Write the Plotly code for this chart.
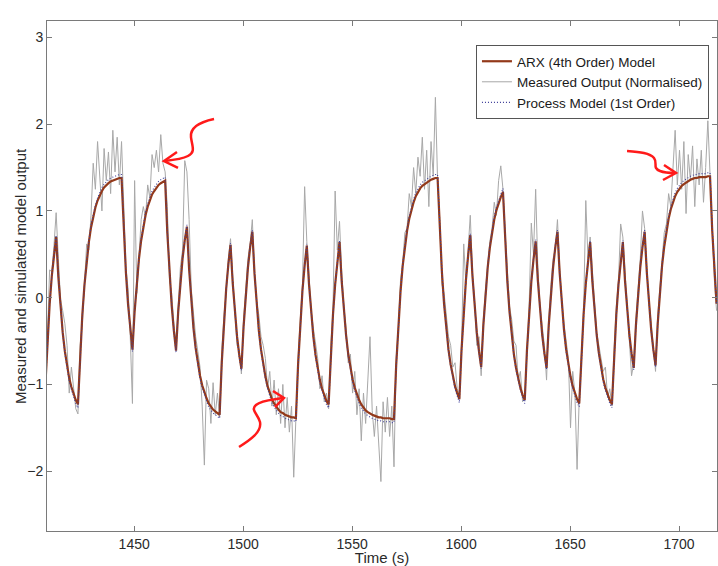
import plotly.graph_objects as go

# Sample grid: 1 s steps starting at 1409.2 s
T0 = 1409.2
DT = 1.0

# ARX (4th order) simulated output
arx_output = [
    -1.03, -0.50, -0.08, 0.25, 0.50, 0.70, 0.24, -0.12, -0.40, -0.62,
    -0.79, -0.93, -1.03, -1.11, -1.18, -1.23, -0.65, -0.20, 0.15, 0.43,
    0.64, 0.81, 0.94, 1.04, 1.12, 1.18, 1.23, 1.27, 1.30, 1.32,
    1.34, 1.35, 1.36, 1.37, 1.38, 1.38, 0.77, 0.29, -0.08, -0.37,
    -0.60, -0.16, 0.19, 0.45, 0.66, 0.82, 0.95, 1.05, 1.13, 1.19,
    1.23, 1.27, 1.30, 1.32, 1.34, 1.35, 0.75, 0.28, -0.09, -0.38,
    -0.61, -0.16, 0.18, 0.45, 0.66, 0.82, 0.33, -0.05, -0.35, -0.58,
    -0.76, -0.90, -1.01, -1.10, -1.16, -1.22, -1.26, -1.29, -1.31, -1.33,
    -1.35, -0.74, -0.27, 0.10, 0.38, 0.61, 0.17, -0.18, -0.45, -0.66,
    -0.82, -0.33, 0.05, 0.35, 0.58, 0.76, 0.28, -0.09, -0.38, -0.60,
    -0.78, -0.91, -1.02, -1.10, -1.17, -1.22, -1.26, -1.29, -1.32, -1.33,
    -1.35, -1.36, -1.37, -1.38, -1.38, -1.39, -0.77, -0.29, 0.08, 0.37,
    0.60, 0.16, -0.19, -0.45, -0.66, -0.82, -0.95, -1.05, -1.13, -1.19,
    -1.23, -0.66, -0.20, 0.15, 0.43, 0.64, 0.19, -0.16, -0.43, -0.65,
    -0.81, -0.94, -1.04, -1.12, -1.18, -1.23, -1.27, -1.30, -1.32, -1.34,
    -1.35, -1.36, -1.37, -1.38, -1.38, -1.39, -1.39, -1.39, -1.39, -1.40,
    -1.40, -0.78, -0.30, 0.07, 0.37, 0.59, 0.77, 0.91, 1.02, 1.10,
    1.17, 1.22, 1.26, 1.29, 1.31, 1.33, 1.35, 1.36, 1.37, 1.38,
    1.38, 0.77, 0.29, -0.08, -0.37, -0.60, -0.77, -0.91, -1.02, -1.10,
    -1.17, -0.60, -0.16, 0.20, 0.48, 0.72, 0.25, -0.12, -0.40, -0.62,
    -0.80, -0.32, 0.06, 0.35, 0.58, 0.76, 0.90, 1.01, 1.10, 1.16,
    1.22, 0.64, 0.19, -0.16, -0.43, -0.65, -0.81, -0.94, -1.04, -1.12,
    -1.18, -0.61, -0.17, 0.18, 0.44, 0.65, 0.20, -0.15, -0.43, -0.64,
    -0.81, -0.32, 0.06, 0.35, 0.58, 0.76, 0.29, -0.08, -0.37, -0.60,
    -0.78, -0.91, -1.02, -1.10, -1.17, -1.22, -0.64, -0.19, 0.16, 0.43,
    0.64, 0.19, -0.16, -0.43, -0.64, -0.81, -0.94, -1.04, -1.12, -1.18,
    -1.23, -0.65, -0.20, 0.15, 0.43, 0.64, 0.19, -0.16, -0.43, -0.64,
    -0.81, -0.32, 0.06, 0.35, 0.58, 0.76, 0.29, -0.09, -0.37, -0.60,
    -0.78, -0.30, 0.08, 0.37, 0.59, 0.77, 0.91, 1.02, 1.10, 1.17,
    1.22, 1.26, 1.29, 1.31, 1.33, 1.35, 1.36, 1.37, 1.38, 1.38,
    1.39, 1.39, 1.39, 1.39, 1.40, 1.40, 0.78, 0.30, -0.07,
]

# Measured output (normalised)
measured_output = [
    -0.90, -0.45, 0.32, 0.30, 0.60, 0.98, 0.45, -0.02, -0.15, -0.30,
    -0.55, -1.10, -0.80, -1.02, -1.28, -1.34, -0.55, -0.30, 0.22, 0.62,
    0.55, 0.95, 1.55, 1.25, 1.80, 1.40, 1.00, 1.72, 1.35, 1.68,
    1.20, 1.93, 1.45, 1.85, 1.30, 1.80, 1.10, 0.35, 0.10, -0.45,
    -1.22, 1.35, 0.05, 0.55, 0.90, 1.05, 0.92, 1.30, 1.15, 1.65,
    1.50, 1.70, 1.45, 1.88, 1.55, 1.45, 1.05, 0.20, 0.05, -0.30,
    -0.55, -0.10, 0.35, 0.55, 1.58, 1.45, 0.90, 0.10, -0.20, -0.45,
    -0.62, -0.80, -1.25, -1.93, -0.95, -1.05, -1.45, -0.98, -1.35, -1.10,
    -1.38, -0.60, -0.20, 0.05, 0.45, 0.68, 0.25, -0.10, -0.55, -0.60,
    -0.88, -0.25, 0.10, 0.45, 0.62, 0.90, 0.30, -0.05, -0.20, -0.45,
    -0.55, -0.70, -1.05, -0.85, -1.25, -0.95, -1.35, -1.05, -1.45, -1.00,
    -1.50, -1.15, -1.55, -1.25, -2.07, -1.30, -0.70, -0.25, 0.15, 1.28,
    0.65, 0.25, -0.15, -0.35, -0.55, -0.70, -1.05, -0.90, -1.20, -1.10,
    -1.28, -0.55, -0.15, 1.23, 0.55, 0.88, 0.30, -0.10, -0.35, -0.75,
    -0.65, -1.10, -0.85, -1.35, -1.05, -1.65, -1.10, -1.45, -0.95, -0.45,
    -1.30, -1.60, -1.25, -1.70, -2.12, -1.20, -1.55, -1.15, -1.60, -1.25,
    -1.95, -0.70, -0.35, 0.20, 0.40, 0.75, 0.80, 1.20, 1.05, 1.50,
    1.20, 1.62, 1.40, 1.85, 1.25, 1.70, 1.05, 1.80, 1.40, 2.31,
    1.35, 0.90, 0.15, 0.05, -0.20, -0.45, -0.55, -0.80, -0.75, -1.05,
    -1.12, -0.55, 0.62, 0.15, 0.55, 0.95, 0.30, -0.05, -0.55, -0.45,
    -0.90, -0.25, 0.10, 0.40, 0.65, 0.80, 1.10, 0.95, 1.35, 1.52,
    1.25, 0.75, 0.30, -0.10, -0.25, -0.50, -0.55, -0.95, -0.85, -1.20,
    -1.15, -0.55, -0.10, 0.86, 0.50, 1.25, 0.35, -0.10, -0.35, -0.55,
    -0.95, -0.25, 0.15, 0.45, 0.55, 0.90, 0.35, -0.05, -0.30, -0.50,
    -0.70, -1.50, -0.85, -1.10, -1.98, -1.15, -0.55, -0.15, 1.12, 0.45,
    0.70, 0.25, -0.05, -0.40, -0.55, -0.65, -0.85, -0.80, -1.15, -1.05,
    -1.25, -0.60, -0.10, 0.20, 0.85, 0.70, 0.25, -0.05, -0.50, -0.90,
    -0.75, -0.25, 0.10, 0.45, 1.00, 0.80, 0.35, -0.05, -0.30, -0.55,
    -0.85, -0.20, 0.15, 0.45, 0.75, 0.85, 1.20, 1.05, 1.55, 1.93,
    1.30, 1.70, 1.25, 1.80, 0.97, 1.65, 1.35, 1.75, 1.05, 1.60,
    1.30, 1.70, 1.10, 1.50, 2.04, 1.45, 0.85, 0.20, -0.15,
]

# Process model (1st order) simulated output
process_output = [
    -1.06, -0.52, -0.08, 0.26, 0.52, 0.72, 0.25, -0.12, -0.41, -0.64,
    -0.81, -0.96, -1.06, -1.14, -1.22, -1.27, -0.67, -0.21, 0.15, 0.44,
    0.66, 0.83, 0.97, 1.07, 1.15, 1.22, 1.27, 1.31, 1.34, 1.36,
    1.38, 1.39, 1.40, 1.41, 1.42, 1.42, 0.79, 0.30, -0.08, -0.38,
    -0.62, -0.16, 0.20, 0.46, 0.68, 0.84, 0.98, 1.08, 1.16, 1.23,
    1.27, 1.31, 1.34, 1.36, 1.38, 1.39, 0.77, 0.29, -0.09, -0.39,
    -0.63, -0.16, 0.19, 0.46, 0.68, 0.84, 0.34, -0.05, -0.36, -0.60,
    -0.78, -0.93, -1.04, -1.13, -1.19, -1.26, -1.30, -1.33, -1.35, -1.37,
    -1.39, -0.76, -0.28, 0.10, 0.39, 0.63, 0.18, -0.19, -0.46, -0.68,
    -0.84, -0.34, 0.05, 0.36, 0.60, 0.78, 0.29, -0.09, -0.39, -0.62,
    -0.80, -0.94, -1.05, -1.13, -1.21, -1.26, -1.30, -1.33, -1.36, -1.37,
    -1.39, -1.40, -1.41, -1.42, -1.42, -1.43, -0.79, -0.30, 0.08, 0.38,
    0.62, 0.16, -0.20, -0.46, -0.68, -0.84, -0.98, -1.08, -1.16, -1.23,
    -1.27, -0.68, -0.21, 0.15, 0.44, 0.66, 0.20, -0.16, -0.44, -0.67,
    -0.83, -0.97, -1.07, -1.15, -1.22, -1.27, -1.31, -1.34, -1.36, -1.38,
    -1.39, -1.40, -1.41, -1.42, -1.42, -1.43, -1.43, -1.43, -1.43, -1.44,
    -1.44, -0.80, -0.31, 0.07, 0.38, 0.61, 0.79, 0.94, 1.05, 1.13,
    1.21, 1.26, 1.30, 1.33, 1.35, 1.37, 1.39, 1.40, 1.41, 1.42,
    1.42, 0.79, 0.30, -0.08, -0.38, -0.62, -0.79, -0.94, -1.05, -1.13,
    -1.21, -0.62, -0.16, 0.21, 0.49, 0.74, 0.26, -0.12, -0.41, -0.64,
    -0.82, -0.33, 0.06, 0.36, 0.60, 0.78, 0.93, 1.04, 1.13, 1.19,
    1.26, 0.66, 0.20, -0.16, -0.44, -0.67, -0.83, -0.97, -1.07, -1.15,
    -1.22, -0.63, -0.18, 0.19, 0.45, 0.67, 0.21, -0.15, -0.44, -0.66,
    -0.83, -0.33, 0.06, 0.36, 0.60, 0.78, 0.30, -0.08, -0.38, -0.62,
    -0.80, -0.94, -1.05, -1.13, -1.21, -1.26, -0.66, -0.20, 0.16, 0.44,
    0.66, 0.20, -0.16, -0.44, -0.66, -0.83, -0.97, -1.07, -1.15, -1.22,
    -1.27, -0.67, -0.21, 0.15, 0.44, 0.66, 0.20, -0.16, -0.44, -0.66,
    -0.83, -0.33, 0.06, 0.36, 0.60, 0.78, 0.30, -0.09, -0.38, -0.62,
    -0.80, -0.31, 0.08, 0.38, 0.61, 0.79, 0.94, 1.05, 1.13, 1.21,
    1.26, 1.30, 1.33, 1.35, 1.37, 1.39, 1.40, 1.41, 1.42, 1.42,
    1.43, 1.43, 1.43, 1.43, 1.44, 1.44, 0.80, 0.31, -0.07,
]

time_s = [round(T0 + k * DT, 1) for k in range(len(arx_output))]

x_ticks = [1450, 1500, 1550, 1600, 1650, 1700]
y_ticks = [-2, -1, 0, 1, 2, 3]

FONT = "Arial, Liberation Sans, sans-serif"
TEXT = "#2a2a2a"
W, H = 718, 566
ML, MR, MT, MB = 47, 1, 21, 35

fig = go.Figure()

fig.add_trace(go.Scatter(
    x=time_s, y=measured_output, mode="lines",
    name="Measured Output (Normalised)", legendrank=2,
    line=dict(color="#a8a8a8", width=1),
))
fig.add_trace(go.Scatter(
    x=time_s, y=arx_output, mode="lines",
    name="ARX (4th Order) Model", legendrank=1,
    line=dict(color="#93391a", width=2.2),
))
fig.add_trace(go.Scatter(
    x=time_s, y=process_output, mode="lines",
    name="Process Model (1st Order)", legendrank=3,
    line=dict(color="#40409a", width=1.1, dash="1px,2px"),
))


# Red callout arrows, defined in pixel space and mapped to paper coordinates
def to_paper(x, y):
    return (x - ML) / (W - ML - MR), (H - MB - y) / (H - MT - MB)


def path_from(cmds):
    parts = []
    for cmd, pts in cmds:
        coords = " ".join("%.4f,%.4f" % to_paper(px, py) for px, py in pts)
        parts.append(cmd + " " + coords)
    return " ".join(parts)


arrow_bodies = [
    [("M", [(214, 119)]), ("C", [(200, 122), (190, 127), (191, 137)]),
     ("C", [(192, 146), (196, 152), (188, 156)]),
     ("C", [(182, 159), (174, 160), (165, 161)])],
    [("M", [(239, 447)]), ("C", [(250, 440), (262, 432), (260, 422)]),
     ("C", [(258, 414), (250, 410), (256, 405)]),
     ("C", [(262, 400), (272, 400), (283, 398)])],
    [("M", [(627, 151)]), ("C", [(640, 152), (650, 153), (654, 158)]),
     ("C", [(658, 163), (652, 168), (660, 171)]),
     ("C", [(665, 173), (670, 173), (675, 173)])],
]
arrow_heads = [
    [("M", [(177, 152)]), ("L", [(164, 161)]), ("L", [(178, 168)])],
    [("M", [(273, 391)]), ("L", [(284, 398)]), ("L", [(275, 407)])],
    [("M", [(664, 165)]), ("L", [(676, 173)]), ("L", [(663, 180)])],
]

shapes = []
for body in arrow_bodies + arrow_heads:
    shapes.append(dict(
        type="path", xref="paper", yref="paper", path=path_from(body),
        line=dict(color="#ff1a1a", width=2.5), layer="above",
    ))

axis_common = dict(
    showline=True, linecolor="#7a7a7a", linewidth=1, mirror="ticks",
    ticks="inside", ticklen=5, tickcolor="#7a7a7a", tickwidth=1,
    showgrid=False, zeroline=False,
    tickfont=dict(family=FONT, size=14, color=TEXT),
)

fig.update_layout(
    width=W, height=H,
    margin=dict(l=ML, r=MR, t=MT, b=MB),
    paper_bgcolor="white", plot_bgcolor="white",
    font=dict(family=FONT, size=14, color=TEXT),
    xaxis=dict(
        range=[1410, 1717.4], tickvals=x_ticks,
        title=dict(text="Time (s)", standoff=2,
                   font=dict(family=FONT, size=15, color=TEXT)),
        **axis_common,
    ),
    yaxis=dict(range=[-2.69, 3.19], tickvals=y_ticks, **axis_common),
    legend=dict(
        x=0.988, y=0.953, xanchor="right", yanchor="top",
        bgcolor="white", bordercolor="#555555", borderwidth=1,
        font=dict(family=FONT, size=13.5, color="#1a1a1a"),
        tracegroupgap=0, itemwidth=30,
    ),
    shapes=shapes,
    annotations=[dict(
        text="Measured and simulated model output",
        xref="paper", yref="paper",
        x=(20 - ML) / (W - ML - MR), y=0.5,
        xanchor="center", yanchor="middle", textangle=-90,
        showarrow=False, font=dict(family=FONT, size=15, color=TEXT),
    )],
    showlegend=True,
)

fig.write_html("out.html")
